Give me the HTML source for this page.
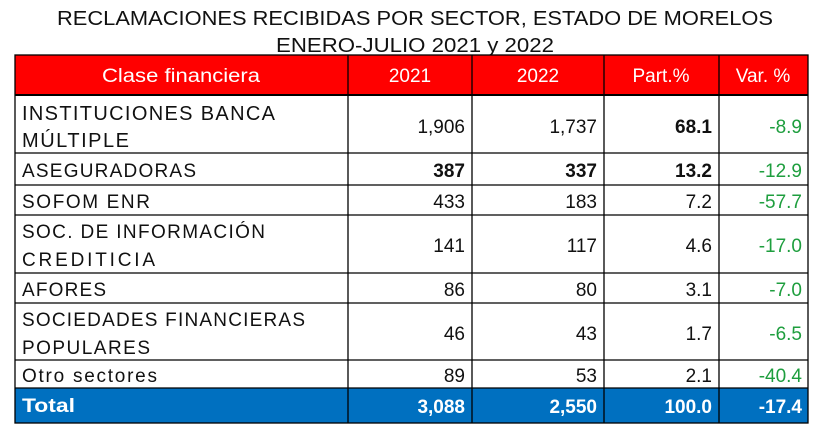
<!DOCTYPE html>
<html><head><meta charset="utf-8"><style>
html,body{margin:0;padding:0;background:#fff;width:814px;height:435px;overflow:hidden}
svg text{font-family:"Liberation Sans",sans-serif}
</style></head><body>
<svg width="814" height="435" xmlns="http://www.w3.org/2000/svg">
<text x="415" y="25" font-size="20" text-anchor="middle" textLength="716" lengthAdjust="spacingAndGlyphs" fill="#111">RECLAMACIONES RECIBIDAS POR SECTOR, ESTADO DE MORELOS</text>
<text x="415" y="52" font-size="20" text-anchor="middle" textLength="278" lengthAdjust="spacingAndGlyphs" fill="#111">ENERO-JULIO 2021 y 2022</text>
<rect x="15" y="55" width="793" height="40" fill="#ff0000"/>
<rect x="15" y="388" width="793" height="35" fill="#0070c0"/>
<g stroke="#000" stroke-width="1.3" fill="none">
<rect x="15" y="55" width="793" height="368"/>
<line x1="15" y1="95" x2="808" y2="95" stroke-width="2"/>
<line x1="15" y1="153" x2="808" y2="153"/>
<line x1="15" y1="185" x2="808" y2="185"/>
<line x1="15" y1="215" x2="808" y2="215"/>
<line x1="15" y1="273" x2="808" y2="273"/>
<line x1="15" y1="303" x2="808" y2="303"/>
<line x1="15" y1="360" x2="808" y2="360"/>
<line x1="15" y1="388" x2="808" y2="388"/>
<line x1="348" y1="55" x2="348" y2="423"/>
<line x1="472" y1="55" x2="472" y2="423"/>
<line x1="604" y1="55" x2="604" y2="423"/>
<line x1="719" y1="55" x2="719" y2="423"/>
</g>
<g font-size="19" fill="#fff">
<text x="181" y="82" text-anchor="middle" textLength="158" lengthAdjust="spacingAndGlyphs">Clase financiera</text>
<text x="410" y="82" text-anchor="middle">2021</text>
<text x="538" y="82" text-anchor="middle">2022</text>
<text x="661" y="82" text-anchor="middle">Part.%</text>
<text x="763" y="82" text-anchor="middle">Var. %</text>
</g>
<g font-size="19" fill="#111" lengthAdjust="spacingAndGlyphs">
<text x="22" y="120" font-size="20" textLength="253">INSTITUCIONES BANCA</text>
<text x="22" y="147" font-size="20" textLength="107">MÚLTIPLE</text>
<text x="22" y="177" textLength="174">ASEGURADORAS</text>
<text x="22" y="208" textLength="128">SOFOM ENR</text>
<text x="22" y="238" textLength="243">SOC. DE INFORMACIÓN</text>
<text x="22" y="266" textLength="133">CREDITICIA</text>
<text x="22" y="296" textLength="84">AFORES</text>
<text x="22" y="326" textLength="283">SOCIEDADES FINANCIERAS</text>
<text x="22" y="354" textLength="128">POPULARES</text>
<text x="22" y="382" textLength="135">Otro sectores</text>
</g>
<g font-size="19" fill="#111" text-anchor="end">
<text x="465" y="133">1,906</text><text x="597" y="133">1,737</text><text x="712" y="133" font-weight="bold">68.1</text>
<text x="465" y="177" font-weight="bold">387</text><text x="597" y="177" font-weight="bold">337</text><text x="712" y="177" font-weight="bold">13.2</text>
<text x="465" y="208">433</text><text x="597" y="208">183</text><text x="712" y="208">7.2</text>
<text x="465" y="252">141</text><text x="597" y="252">117</text><text x="712" y="252">4.6</text>
<text x="465" y="296">86</text><text x="597" y="296">80</text><text x="712" y="296">3.1</text>
<text x="465" y="340">46</text><text x="597" y="340">43</text><text x="712" y="340">1.7</text>
<text x="465" y="382">89</text><text x="597" y="382">53</text><text x="712" y="382">2.1</text>
</g>
<g font-size="19" fill="#1e9e3e" text-anchor="end">
<text x="802" y="133">-8.9</text>
<text x="802" y="177">-12.9</text>
<text x="802" y="208">-57.7</text>
<text x="802" y="252">-17.0</text>
<text x="802" y="296">-7.0</text>
<text x="802" y="340">-6.5</text>
<text x="802" y="382">-40.4</text>
</g>
<g font-size="19" fill="#fff" font-weight="bold">
<text x="22" y="412" textLength="53" lengthAdjust="spacingAndGlyphs">Total</text>
<g text-anchor="end">
<text x="465" y="413">3,088</text><text x="597" y="413">2,550</text><text x="712" y="413">100.0</text><text x="802" y="413">-17.4</text>
</g></g>
</svg>
</body></html>
